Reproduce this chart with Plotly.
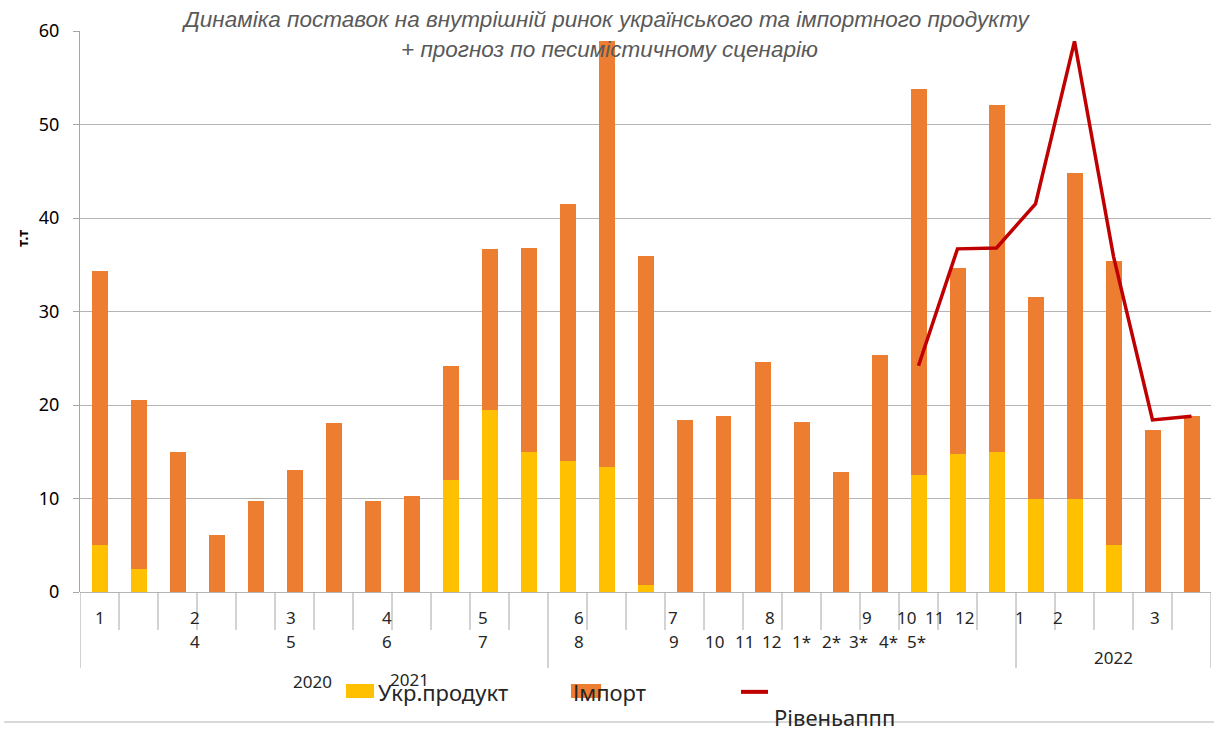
import plotly.graph_objects as go

# Monthly supply to the domestic market, thousand tonnes
ukr_product = [5.0, 2.5, 0, 0, 0, 0, 0, 0, 0, 12.0, 19.5, 15.0, 14.0, 13.4, 0.7,
               0, 0, 0, 0, 0, 0, 12.5, 14.8, 15.0, 10.0, 10.0, 5.0, 0, 0]
import_product = [29.3, 18.0, 15.0, 6.1, 9.7, 13.0, 18.1, 9.7, 10.3, 12.2, 17.2, 21.8, 27.5, 45.5, 35.2,
                  18.4, 18.8, 24.6, 18.2, 12.8, 25.3, 41.3, 19.8, 37.1, 21.6, 34.8, 30.4, 17.3, 18.8]
level_line = [None] * 21 + [24.2, 36.7, 36.8, 41.5, 58.9, 35.9, 18.4, 18.8]

# Category axis labels (three rows) and their positions along the category scale
row1_labels = ["1", "2", "3", "4", "5", "6", "7", "8", "9", "10", "11", "12", "1", "2", "3"]
row1_pos = [0.0, 2.45, 4.91, 7.37, 9.83, 12.29, 14.7, 17.2, 19.68, 20.68, 21.42, 22.17, 23.6, 24.58, 27.06]
row2_labels = ["4", "5", "6", "7", "8", "9", "10", "11", "12", "1*", "2*", "3*", "4*", "5*"]
row2_pos = [2.45, 4.91, 7.37, 9.83, 12.29, 14.74, 15.76, 16.55, 17.24, 18.01, 18.76, 19.45, 20.22, 20.96]
year_labels = ["2020", "2021", "2022"]
year_pos = [5.45, 7.94, 25.99]
year_y = [-0.160, -0.156, -0.117]
long_separators = [0, 12, 24, 29]

n = len(ukr_product)
x = list(range(n))

YELLOW = "#FFC000"
ORANGE = "#ED7D31"
RED = "#C00000"
GRID = "#B4B4B4"
FONT = "Noto Sans"

fig = go.Figure()
fig.add_trace(go.Bar(x=x, y=ukr_product, name="Укр.продукт", marker=dict(color=YELLOW, line=dict(width=0))))
fig.add_trace(go.Bar(x=x, y=import_product, name="Імпорт", marker=dict(color=ORANGE, line=dict(width=0))))
fig.add_trace(go.Scatter(x=x, y=level_line, name="Рівеньаппп", mode="lines",
                         line=dict(color=RED, width=3.5), connectgaps=False))

shapes = []
# category separators under the axis
for k in range(n + 1):
    y1 = -0.1355 if k in long_separators else -0.0677
    shapes.append(dict(type="line", xref="x", yref="paper", x0=k - 0.5, x1=k - 0.5, y0=0, y1=y1,
                       line=dict(color="#A6A6A6", width=1)))
# legend swatches
shapes.append(dict(type="rect", xref="paper", yref="paper", x0=0.2352, x1=0.2600, y0=-0.189, y1=-0.164,
                   fillcolor=YELLOW, line=dict(width=0)))
shapes.append(dict(type="rect", xref="paper", yref="paper", x0=0.4341, x1=0.4607, y0=-0.189, y1=-0.164,
                   fillcolor=ORANGE, line=dict(width=0)))
shapes.append(dict(type="line", xref="paper", yref="paper", x0=0.5844, x1=0.6083, y0=-0.178, y1=-0.178,
                   line=dict(color=RED, width=4)))
# chart area bottom border
shapes.append(dict(type="line", xref="paper", yref="paper", x0=-0.067, x1=1.003, y0=-0.2317, y1=-0.2317,
                   line=dict(color="#D9D9D9", width=2)))

annotations = []


def label(text, xv, yv, xref="x", size=17, xanchor="center", color="#262626", family=FONT, **kw):
    annotations.append(dict(x=xv, y=yv, xref=xref, yref="paper", text=text, showarrow=False,
                            xanchor=xanchor, yanchor="middle",
                            font=dict(family=family, size=size, color=color), **kw))


for lab, p in zip(row1_labels, row1_pos):
    label(lab, p, -0.046)
for lab, p in zip(row2_labels, row2_pos):
    label(lab, p, -0.088)
for lab, p, yy in zip(year_labels, year_pos, year_y):
    label(lab, p, yy)

# legend texts
label("Укр.продукт", 0.2617, -0.178, xref="paper", size=22, xanchor="left")
label("Імпорт", 0.4341, -0.178, xref="paper", size=22, xanchor="left")
label("Рівеньаппп", 0.6118, -0.2228, xref="paper", size=22, xanchor="left")

# title
label("<i>Динаміка поставок на внутрішній ринок українського та імпортного продукту</i>",
      0.465, 1.020, xref="paper", size=22.5, color="#595959", family="Liberation Sans")
label("<i>+ прогноз по песимістичному сценарію</i>",
      0.468, 0.967, xref="paper", size=22.5, color="#595959", family="Liberation Sans")
# y axis title
label("<b>т.т</b>", -0.0513, 0.631, xref="paper", size=14, color="#000000", textangle=-90)

fig.update_layout(
    width=1214, height=731,
    margin=dict(l=80, r=3, t=31, b=139),
    paper_bgcolor="white", plot_bgcolor="white",
    barmode="stack", bargap=0.59,
    showlegend=False,
    shapes=shapes, annotations=annotations,
    xaxis=dict(range=[-0.5, n - 0.5], showticklabels=False, showgrid=False, zeroline=False,
               showline=False, ticks=""),
    yaxis=dict(range=[0, 60], dtick=10, showgrid=True, gridcolor=GRID, gridwidth=1,
               zeroline=True, zerolinecolor=GRID, zerolinewidth=1,
               showline=True, linecolor="#A6A6A6", linewidth=1,
               ticks="outside", ticklen=6, tickcolor="#A6A6A6", ticklabelstandoff=10,
               tickfont=dict(family=FONT, size=18, color="#000000")),
)

fig.write_html("out.html")
